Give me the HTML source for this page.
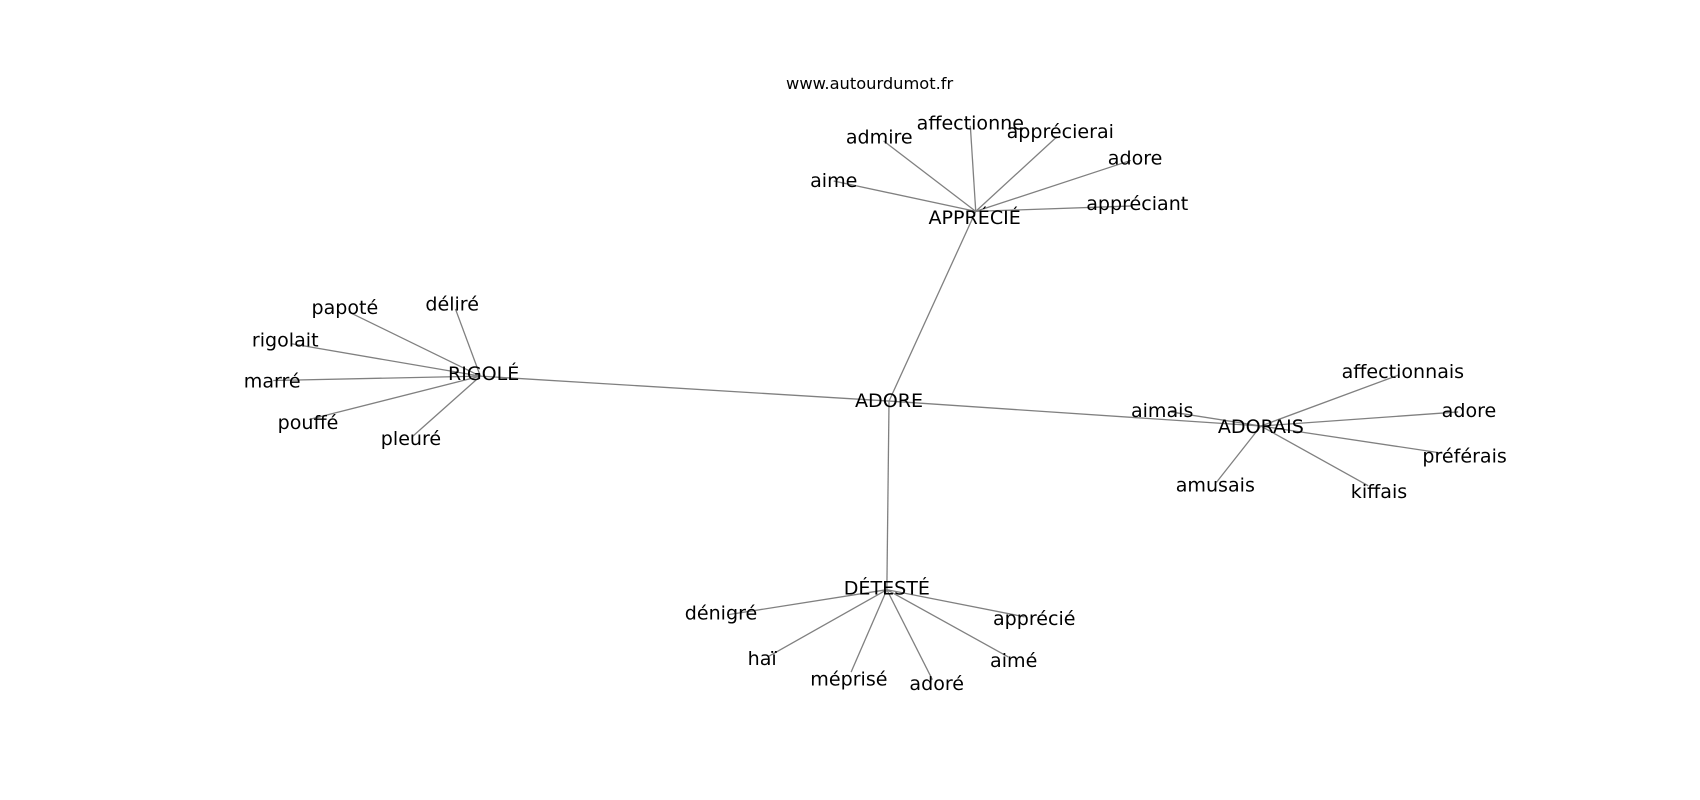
<!DOCTYPE html>
<html><head><meta charset="utf-8"><style>
html,body{margin:0;padding:0;background:#fff;}
svg{display:block;}
text{font-family:"DejaVu Sans","Liberation Sans",sans-serif;fill:#000;}
</style></head><body>
<svg width="1700" height="800" viewBox="0 0 1568 738" xmlns="http://www.w3.org/2000/svg">
<g stroke="#808080" stroke-width="1.2" fill="none">
<line x1="820" y1="370" x2="900" y2="195"/>
<line x1="820" y1="370" x2="443" y2="347"/>
<line x1="820" y1="370" x2="1163" y2="393"/>
<line x1="820" y1="370" x2="818" y2="544"/>
<line x1="900" y1="195" x2="769" y2="167"/>
<line x1="900" y1="195" x2="815" y2="130"/>
<line x1="900" y1="195" x2="895" y2="116"/>
<line x1="900" y1="195" x2="975" y2="126"/>
<line x1="900" y1="195" x2="1043" y2="148"/>
<line x1="900" y1="195" x2="1045" y2="190"/>
<line x1="443" y1="347" x2="322" y2="288"/>
<line x1="443" y1="347" x2="420" y2="285"/>
<line x1="443" y1="347" x2="268" y2="317"/>
<line x1="443" y1="347" x2="252" y2="351"/>
<line x1="443" y1="347" x2="285" y2="387"/>
<line x1="443" y1="347" x2="380" y2="403"/>
<line x1="1163" y1="393" x2="1080" y2="380"/>
<line x1="1163" y1="393" x2="1290" y2="346"/>
<line x1="1163" y1="393" x2="1345" y2="380"/>
<line x1="1163" y1="393" x2="1330" y2="418"/>
<line x1="1163" y1="393" x2="1262" y2="448"/>
<line x1="1163" y1="393" x2="1122" y2="445"/>
<line x1="818" y1="544" x2="672" y2="567"/>
<line x1="818" y1="544" x2="708" y2="606"/>
<line x1="818" y1="544" x2="785" y2="620"/>
<line x1="818" y1="544" x2="860" y2="627"/>
<line x1="818" y1="544" x2="930" y2="606"/>
<line x1="818" y1="544" x2="945" y2="569"/>
</g>
<g font-size="17.6" text-anchor="middle" dominant-baseline="central">
<text x="725" y="77" font-size="15" text-anchor="start">www.autourdumot.fr</text>
<text x="899" y="201">APPRÉCIÉ</text>
<text x="820" y="370">ADORE</text>
<text x="446" y="345">RIGOLÉ</text>
<text x="1163" y="394">ADORAIS</text>
<text x="818" y="543">DÉTESTÉ</text>
<text x="769" y="167">aime</text>
<text x="811" y="127">admire</text>
<text x="895" y="114">affectionne</text>
<text x="978" y="122">apprécierai</text>
<text x="1047" y="146">adore</text>
<text x="1049" y="188">appréciant</text>
<text x="318" y="284">papoté</text>
<text x="417" y="281">déliré</text>
<text x="263" y="314">rigolait</text>
<text x="251" y="352">marré</text>
<text x="284" y="390">pouffé</text>
<text x="379" y="405">pleuré</text>
<text x="1072" y="379">aimais</text>
<text x="1294" y="343">affectionnais</text>
<text x="1355" y="379">adore</text>
<text x="1351" y="421">préférais</text>
<text x="1272" y="454">kiffais</text>
<text x="1121" y="448">amusais</text>
<text x="665" y="566">dénigré</text>
<text x="703" y="608">haï</text>
<text x="783" y="627">méprisé</text>
<text x="864" y="631">adoré</text>
<text x="935" y="610">aimé</text>
<text x="954" y="571">apprécié</text>
</g>
</svg>
</body></html>
